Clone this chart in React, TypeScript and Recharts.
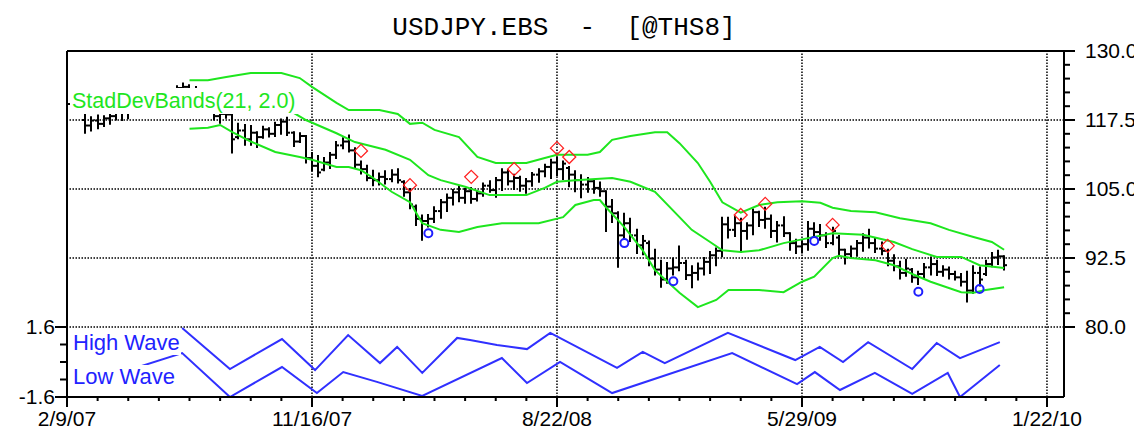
import { ComposedChart, Bar, Line, Scatter, XAxis, YAxis, ReferenceLine } from 'recharts';

// weekly bars, index 0 = 2/9/07
const highs = [
  122.0, 121.5, 121.8, 118.4, 118.0, 118.3, 118.2, 118.5, 119.8, 119.9,
  120.4, 120.2, 120.7, 121.0, 121.6, 122.0, 122.4, 122.8, 123.6, 124.1,
  123.8, 123.5, 123.1, 122.2, 119.6, 119.0, 119.3, 119.2, 116.8, 116.6,
  116.4, 115.3, 116.3, 116.0, 117.0, 117.6, 117.9, 115.3, 115.1, 114.6,
  111.5, 111.0, 110.6, 111.5, 113.5, 114.2, 114.7, 112.4, 110.0, 109.2,
  108.3, 107.8, 108.2, 108.4, 108.6, 106.4, 105.0, 102.0, 100.2, 100.3,
  101.7, 103.0, 104.0, 104.8, 105.5, 105.0, 105.2, 104.6, 106.0, 106.4,
  107.0, 108.6, 108.5, 107.6, 107.2, 106.8, 107.9, 108.6, 109.4, 110.3,
  110.6, 110.0, 109.0, 108.2, 107.5, 107.0, 106.6, 106.2, 104.6, 103.0,
  100.8, 100.5, 99.6, 97.6, 96.5, 95.5, 94.0, 92.0, 91.6, 92.4,
  94.6, 92.0, 91.0, 91.5, 92.5, 93.6, 94.2, 99.8, 99.8, 100.0,
  99.6, 98.8, 101.3, 100.9, 101.6, 100.2, 99.0, 99.9, 97.0, 95.8,
  95.5, 99.0, 98.8, 98.5, 97.0, 98.0, 96.5, 94.0, 94.6, 95.6,
  96.8, 97.6, 96.0, 95.3, 94.0, 93.0, 91.8, 92.2, 90.5, 90.0,
  91.4, 92.6, 92.0, 91.0, 90.8, 90.0, 89.6, 90.0, 91.0, 90.8,
  92.0, 93.4, 93.8, 92.8,
];
const lows = [
  119.8, 119.4, 118.9, 115.2, 115.6, 116.0, 116.4, 116.8, 117.6, 117.5,
  117.8, 118.9, 119.2, 119.5, 120.1, 120.8, 121.0, 121.4, 121.8, 122.5,
  122.0, 121.0, 120.2, 119.4, 117.6, 117.0, 117.9, 111.6, 114.2, 113.0,
  113.0, 112.6, 114.3, 114.5, 114.6, 115.0, 114.8, 112.8, 113.5, 109.8,
  108.4, 107.3, 108.4, 108.8, 110.6, 112.4, 111.8, 109.0, 107.8, 106.6,
  105.7, 105.8, 106.0, 106.4, 106.2, 103.8, 101.5, 98.5, 95.8, 98.2,
  99.0, 99.8, 101.0, 102.2, 102.8, 102.5, 102.5, 102.9, 103.8, 104.5,
  103.6, 104.8, 105.8, 105.0, 104.7, 104.3, 105.6, 106.3, 107.3, 107.0,
  107.5, 106.8, 105.5, 104.6, 103.5, 104.5, 104.3, 103.8, 97.4, 99.0,
  90.9, 96.0, 95.6, 93.4, 93.2, 91.2, 89.5, 87.3, 88.0, 89.5,
  90.3, 88.7, 87.2, 88.6, 89.5, 89.8, 91.2, 92.8, 96.2, 96.5,
  93.6, 96.0, 96.8, 98.3, 98.0, 96.3, 95.5, 96.5, 94.0, 93.4,
  93.5, 94.0, 96.4, 95.8, 94.5, 95.0, 93.2, 91.5, 92.6, 92.9,
  93.8, 94.4, 93.6, 93.2, 91.2, 90.3, 88.8, 89.3, 88.2, 87.8,
  89.0, 89.5, 89.4, 89.3, 88.8, 88.6, 87.5, 84.6, 86.2, 87.5,
  89.4, 91.0, 91.4, 90.4,
];
const opens = [
  121.0, 120.4, 120.8, 117.5, 116.5, 117.4, 116.8, 117.8, 118.2, 119.2,
  118.8, 119.6, 119.8, 120.4, 120.6, 121.4, 121.7, 122.2, 122.6, 123.3,
  123.5, 122.4, 121.8, 121.0, 119.6, 118.2, 118.6, 118.5, 114.4, 115.6,
  114.0, 115.2, 114.4, 115.8, 115.0, 116.6, 117.2, 115.2, 113.6, 114.6,
  110.6, 109.2, 108.5, 109.8, 111.2, 112.9, 113.6, 112.0, 109.4, 108.6,
  107.0, 106.6, 107.2, 106.8, 107.6, 106.3, 104.4, 101.8, 99.6, 99.2,
  99.6, 101.0, 102.6, 103.4, 104.4, 103.4, 104.6, 103.2, 104.2, 105.6,
  104.8, 106.6, 108.0, 106.4, 107.0, 105.6, 106.4, 107.6, 108.2, 109.0,
  109.8, 108.6, 108.8, 107.6, 106.6, 105.8, 106.4, 105.2, 104.6, 101.8,
  100.6, 96.6, 98.8, 96.6, 94.8, 95.2, 92.4, 90.4, 88.6, 90.6,
  90.8, 91.6, 89.4, 89.8, 90.6, 91.8, 93.0, 93.8, 98.6, 97.6,
  98.8, 97.4, 98.4, 100.8, 99.4, 99.6, 97.4, 98.4, 97.0, 95.2,
  94.6, 95.0, 97.8, 97.2, 96.6, 95.2, 96.2, 94.0, 93.2, 94.2,
  95.2, 96.2, 95.2, 94.2, 93.8, 92.0, 91.0, 89.8, 90.4, 89.0,
  89.6, 90.8, 91.4, 90.0, 90.4, 89.6, 89.0, 88.2, 86.6, 89.8,
  89.6, 91.4, 92.6, 92.8,
];
const closes = [
  120.4, 120.8, 119.2, 116.5, 117.4, 116.8, 117.8, 118.2, 119.2, 118.8,
  119.6, 119.8, 120.4, 120.6, 121.4, 121.7, 122.2, 122.6, 123.3, 123.5,
  122.4, 121.8, 121.0, 119.6, 118.2, 118.6, 118.5, 114.0, 115.6, 114.0,
  115.2, 114.4, 115.8, 115.0, 116.6, 117.2, 115.2, 113.6, 114.6, 110.6,
  109.2, 108.0, 109.8, 111.2, 112.9, 113.6, 112.0, 109.4, 108.6, 107.0,
  106.6, 107.2, 106.8, 107.6, 106.6, 104.4, 102.2, 99.6, 99.2, 99.6,
  101.0, 102.6, 103.4, 104.4, 103.4, 104.6, 103.2, 104.2, 105.6, 104.8,
  106.6, 108.0, 106.4, 107.0, 105.6, 106.4, 107.6, 108.2, 109.0, 109.8,
  108.6, 109.6, 107.6, 106.6, 105.8, 106.4, 105.2, 104.6, 101.8, 100.6,
  96.6, 98.8, 96.6, 94.8, 95.6, 92.4, 90.4, 88.6, 90.6, 90.8,
  91.6, 89.4, 89.8, 90.6, 91.8, 93.0, 93.8, 98.6, 97.6, 98.8,
  97.4, 98.4, 100.8, 99.4, 99.6, 97.4, 98.4, 97.0, 95.2, 94.6,
  95.0, 97.8, 97.2, 96.6, 95.2, 97.4, 94.0, 93.2, 94.2, 95.2,
  96.2, 95.2, 94.2, 93.8, 92.0, 91.0, 89.8, 90.6, 89.0, 89.6,
  90.8, 91.4, 90.0, 90.4, 89.6, 89.0, 88.2, 86.6, 89.8, 88.6,
  91.4, 92.6, 92.8, 91.2,
];

// StdDev bands (21, 2.0)
const upIdx = [20, 23, 26, 30, 35, 38, 40, 44, 46, 51, 54, 56, 58, 60, 64, 67, 70, 75, 78, 80, 85, 87, 89, 92, 96, 98, 100, 103, 105, 107, 110, 113, 116, 120, 123, 125, 128, 132, 136, 141, 144, 148, 151, 153];
const upVal = [124.7, 124.7, 125.3, 126.0, 126.0, 125.1, 123.5, 120.6, 119.3, 119.3, 118.6, 116.8, 117.0, 115.7, 114.4, 110.8, 109.7, 109.7, 110.6, 111.2, 111.2, 111.7, 113.9, 114.6, 115.3, 115.3, 113.3, 109.7, 106.3, 102.6, 100.7, 102.1, 102.6, 102.8, 102.5, 101.6, 101.0, 100.8, 99.7, 98.8, 97.6, 96.3, 95.4, 94.0];
const midIdx = [20, 26, 30, 33, 37, 39, 44, 47, 52, 56, 59, 61, 65, 69, 75, 78, 80, 83, 89, 92, 96, 100, 102, 105, 107, 110, 113, 117, 121, 125, 130, 135, 138, 142, 146, 149, 153];
const midVal = [120.4, 120.8, 120.0, 119.3, 118.8, 117.5, 115.1, 113.5, 112.1, 110.3, 107.5, 106.6, 105.4, 103.9, 103.9, 105.2, 106.3, 106.6, 107.0, 106.3, 104.5, 99.9, 97.6, 95.4, 93.9, 93.6, 93.9, 95.2, 96.1, 97.0, 96.7, 95.4, 94.1, 92.7, 92.7, 91.2, 90.7];
const loIdx = [20, 23, 25, 27, 30, 34, 38, 40, 44, 46, 48, 50, 53, 56, 58, 61, 64, 67, 71, 77, 81, 83, 86, 87, 88, 91, 94, 96, 100, 103, 106, 108, 113, 117, 120, 122, 125, 126, 128, 132, 135, 138, 141, 146, 148, 150, 153];
const loVal = [115.9, 116.1, 116.6, 115.3, 113.6, 111.7, 110.8, 110.3, 109.0, 109.0, 108.4, 107.0, 104.5, 102.6, 98.8, 97.6, 97.2, 98.1, 98.8, 98.8, 99.9, 102.1, 103.0, 103.0, 101.7, 98.1, 93.9, 90.3, 86.2, 83.6, 84.9, 86.7, 86.7, 86.3, 88.2, 89.1, 92.5, 92.9, 92.5, 92.1, 91.2, 89.6, 88.2, 86.3, 86.2, 86.7, 87.2];

// wave pane
const highWaveIdx = [18.8, 26.6, 35.1, 40.5, 45.9, 51.1, 53.9, 58, 63.7, 65.8, 70.2, 75.1, 78.9, 89.8, 94, 97.6, 107.9, 118.9, 122.9, 126.7, 130.8, 138, 142, 145.8, 152.3];
const highWaveVal = [1.55, -0.32, 1.05, -0.37, 1.23, -0.05, 0.69, -0.5, 1.1, 1.01, 0.78, 0.59, 1.33, -0.27, 0.46, -0.05, 1.33, 0.09, 0.69, 0, 0.91, -0.32, 0.87, 0.18, 0.91];
const lowWaveIdx = [5, 18.8, 26.6, 35.1, 40.8, 45.1, 50.6, 58, 71, 75.1, 80.5, 89, 108.6, 119.2, 122.1, 126.2, 131.9, 138, 143.8, 145.8, 152.3];
const lowWaveVal = [-0.82, 0.41, -1.6, -0.23, -1.42, -0.46, -0.91, -1.55, 0.18, -0.96, 0, -1.42, 0.41, -1.01, -0.46, -1.28, -0.5, -1.46, -0.5, -1.6, -0.14];

// signals
const diamondIdx = [48, 56, 66, 73, 80, 82, 110, 114, 125, 134];
const diamondVal = [111.9, 105.7, 107.2, 108.6, 112.4, 110.8, 100.3, 102.3, 98.5, 94.7];
const circleIdx = [59, 91, 99, 122, 139, 149];
const circleVal = [97.0, 95.2, 88.3, 95.6, 86.4, 86.9];

const dateIdx = [0, 40, 80, 120, 160];
const dateLabels = ['2/9/07', '11/16/07', '8/22/08', '5/29/09', '1/22/10'];
const priceMajor = [80, 92.5, 105, 117.5, 130];
const priceGrid = [117.5, 105, 92.5, 80];
const waveMajor = [-1.6, 1.6];
const waveTicks = [-1.6, -0.8, 0, 0.8, 1.6];

const W = 1134;
const H = 424;
const PL = 59;
const PR = 1056;
const PB = 389;
const GREEN = '#1ee61e';
const BLUE = '#3030ff';
const FONT = '"Liberation Sans", Arial, sans-serif';

const ohlc = highs.map((h, k) => ({ i: k, h, l: lows[k], o: opens[k], c: closes[k] }));
const pairs = (xs: number[], vs: number[]) => xs.map((i, k) => ({ i, v: vs[k] }));
const xTicks = Array.from({ length: 33 }, (_, k) => k * 5);
const priceTicks = Array.from({ length: 21 }, (_, k) => 80 + k * 2.5);

function OhlcShape(props: any) {
  const { x, y, width, height, payload } = props;
  if (x == null || y == null) return null;
  const cx = Math.round(x + width / 2);
  const span = payload.h - payload.l;
  const k = span > 0 ? height / span : 0;
  const yo = y + (payload.h - payload.o) * k;
  const yc = y + (payload.h - payload.c) * k;
  return (
    <g stroke="#000" strokeWidth={2}>
      <line x1={cx} x2={cx} y1={y - 1} y2={y + height + 1} />
      <line x1={cx - 3} x2={cx} y1={yo} y2={yo} />
      <line x1={cx} x2={cx + 3} y1={yc} y2={yc} />
    </g>
  );
}

function Diamond(props: any) {
  const { cx, cy } = props;
  const r = 6.5;
  return <polygon points={`${cx},${cy - r} ${cx + r},${cy} ${cx},${cy + r} ${cx - r},${cy}`} fill="none" stroke="#ff2020" strokeWidth={1.3} />;
}

function Ring(props: any) {
  const { cx, cy } = props;
  return <circle cx={cx} cy={cy} r={4} fill="none" stroke="#1e1eff" strokeWidth={2} />;
}

function DateTick(props: any) {
  const { x, payload } = props;
  const k = dateIdx.indexOf(payload.value);
  return (
    <g>
      <line x1={x} x2={x} y1={PB} y2={PB + (k >= 0 ? 10 : 4)} stroke="#000" strokeWidth={2} />
      {k >= 0 && (
        <text x={x} y={PB + 29} textAnchor="middle" fontSize={21} fontFamily={FONT} fill="#000">
          {dateLabels[k]}
        </text>
      )}
    </g>
  );
}

function PriceTick(props: any) {
  const { y, payload } = props;
  const major = priceMajor.includes(payload.value);
  return (
    <g>
      <line x1={PR} x2={PR + (major ? 11 : 6)} y1={y} y2={y} stroke="#000" strokeWidth={2} />
      {major && (
        <text x={PR + 21} y={y + 7} fontSize={21} fontFamily={FONT} fill="#000">
          {payload.value.toFixed(1)}
        </text>
      )}
    </g>
  );
}

function WaveTick(props: any) {
  const { y, payload } = props;
  const major = waveMajor.includes(payload.value);
  return (
    <g>
      <line x1={PL - (major ? 12 : 7)} x2={PL} y1={y} y2={y} stroke="#000" strokeWidth={2} />
      {major && (
        <text x={PL - 12} y={y + 7} textAnchor="end" fontSize={21} fontFamily={FONT} fill="#000">
          {payload.value}
        </text>
      )}
    </g>
  );
}

const labelBox = { position: 'absolute' as const, background: '#fff', fontFamily: FONT, whiteSpace: 'pre' as const };

export default function App() {
  return (
    <div style={{ position: 'relative', width: W, height: H }}>
      <ComposedChart width={W} height={H} data={ohlc} margin={{ top: 43, right: 0, bottom: 0, left: 0 }}>
        <XAxis
          dataKey="i"
          type="number"
          domain={[0, 162.78]}
          allowDataOverflow
          ticks={xTicks}
          interval={0}
          height={35}
          axisLine={{ stroke: '#000', strokeWidth: 2 }}
          tickLine={false}
          tick={DateTick}
        />
        <YAxis
          yAxisId="p"
          orientation="right"
          type="number"
          domain={[67.32, 130]}
          allowDataOverflow
          ticks={priceTicks}
          interval={0}
          width={W - PR}
          axisLine={{ stroke: '#000', strokeWidth: 2 }}
          tickLine={false}
          tick={PriceTick}
        />
        <YAxis
          yAxisId="w"
          orientation="left"
          type="number"
          domain={[-1.6, 14.217]}
          allowDataOverflow
          ticks={waveTicks}
          interval={0}
          width={PL}
          axisLine={{ stroke: '#000', strokeWidth: 2 }}
          tickLine={false}
          tick={WaveTick}
        />
        {priceGrid.map(v => (
          <ReferenceLine key={`h${v}`} yAxisId="p" y={v} stroke="#000" strokeWidth={1.5} strokeDasharray="1.5 1.5" />
        ))}
        {dateIdx.slice(1).map(v => (
          <ReferenceLine key={`v${v}`} yAxisId="p" x={v} stroke="#000" strokeWidth={1.5} strokeDasharray="1.5 1.5" />
        ))}
        <ReferenceLine yAxisId="p" y={130} stroke="#000" strokeWidth={2} />
        <Bar yAxisId="p" dataKey={(d: any) => [d.l, d.h]} barSize={4} shape={OhlcShape} isAnimationActive={false} />
        <Line yAxisId="p" data={pairs(upIdx, upVal)} dataKey="v" stroke={GREEN} strokeWidth={2} dot={false} isAnimationActive={false} />
        <Line yAxisId="p" data={pairs(midIdx, midVal)} dataKey="v" stroke={GREEN} strokeWidth={2} dot={false} isAnimationActive={false} />
        <Line yAxisId="p" data={pairs(loIdx, loVal)} dataKey="v" stroke={GREEN} strokeWidth={2} dot={false} isAnimationActive={false} />
        <Line yAxisId="w" data={pairs(highWaveIdx, highWaveVal)} dataKey="v" stroke={BLUE} strokeWidth={2} dot={false} isAnimationActive={false} />
        <Line yAxisId="w" data={pairs(lowWaveIdx, lowWaveVal)} dataKey="v" stroke={BLUE} strokeWidth={2} dot={false} isAnimationActive={false} />
        <Scatter yAxisId="p" data={pairs(diamondIdx, diamondVal)} dataKey="v" shape={Diamond} isAnimationActive={false} />
        <Scatter yAxisId="p" data={pairs(circleIdx, circleVal)} dataKey="v" shape={Ring} isAnimationActive={false} />
      </ComposedChart>
      <div style={{ position: 'absolute', left: 356, top: 7, width: 400, textAlign: 'center', fontFamily: '"Liberation Mono", monospace', fontSize: 26, lineHeight: '26px', whiteSpace: 'pre', color: '#000' }}>
        USDJPY.EBS  -  [@THS8]
      </div>
      <div style={{ ...labelBox, left: 62, top: 80, height: 26, lineHeight: '26px', fontSize: 21.5, color: GREEN, padding: '0 2px' }}>
        StadDevBands(21, 2.0)
      </div>
      <div style={{ ...labelBox, left: 62, top: 322, height: 25, lineHeight: '25px', fontSize: 22, color: '#2222ff', padding: '0 1px 0 3px' }}>
        High Wave
      </div>
      <div style={{ ...labelBox, left: 62, top: 357, height: 24, lineHeight: '24px', fontSize: 22, color: '#2222ff', padding: '0 1px 0 3px' }}>
        Low Wave
      </div>
    </div>
  );
}
